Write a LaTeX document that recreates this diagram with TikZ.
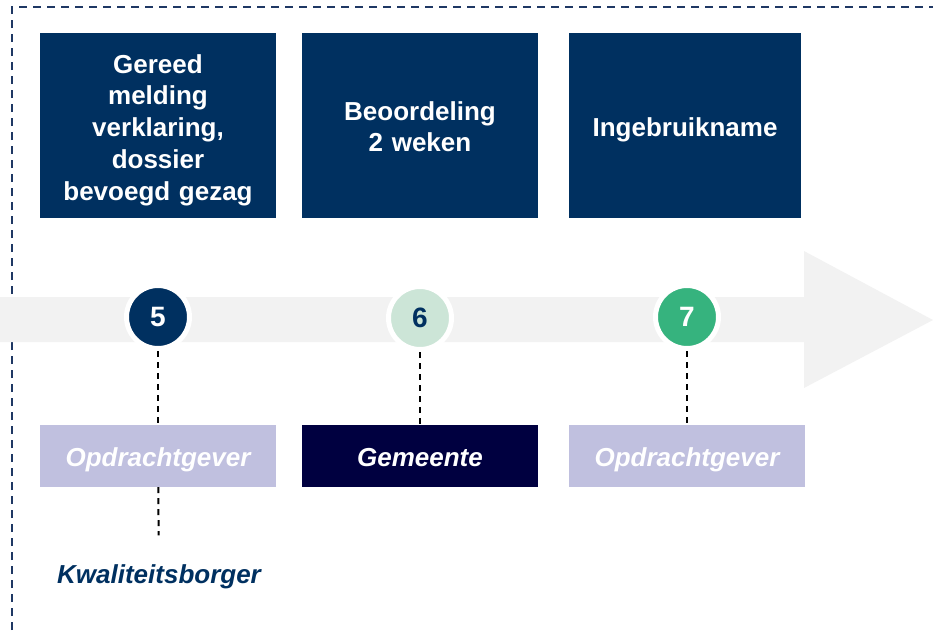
\documentclass[tikz,border=0pt]{standalone}
\usepackage{fontspec}
\setmainfont{Liberation Sans}
\usetikzlibrary{positioning}
\definecolor{navy}{HTML}{003060}
\definecolor{night}{HTML}{000040}
\definecolor{lavender}{HTML}{C0C0DF}
\definecolor{mint}{HTML}{CCE5D7}
\definecolor{jade}{HTML}{36B37E}
\definecolor{mist}{HTML}{F2F2F2}
\definecolor{frame}{HTML}{1F3864}
\begin{document}
\begin{tikzpicture}[x=1pt, y=-1pt,
  stepbox/.style={shape=rectangle, fill=navy, text=white, inner sep=0pt, minimum width=236pt, minimum height=185pt, text width=230pt, align=center, text height=19pt, font=\fontsize{26}{31.75}\selectfont\bfseries},
  rolebox/.style={shape=rectangle, text=white, inner sep=0pt, minimum width=236pt, minimum height=62pt, text height=22pt, text depth=2pt, font=\fontsize{26}{30}\selectfont\bfseries\itshape},
  mile/.style={shape=circle, draw=white, line width=5pt, minimum size=63pt, inner sep=0pt, font=\fontsize{28}{30}\selectfont\bfseries},
  link/.style={-, line width=2pt, draw=black, dash pattern=on 6pt off 5pt}]
\useasboundingbox (0,0) rectangle (933,630);
\draw[frame, line width=2.5pt, dash pattern=on 8pt off 6pt] (12,630) -- (12,7) -- (933,7);
\fill[mist] (0,297) -- (804,297) -- (804,251) -- (933,320) -- (804,388) -- (804,342) -- (0,342) -- cycle;
\node[stepbox, text depth=124pt] (s5) at (158,125.5) {Gereed\\melding\\verklaring,\\dossier\\bevoegd gezag};
\node[stepbox, text depth=30pt] (s6) at (420,125.5) {Beoordeling\\2 weken};
\node[stepbox, text height=24pt, text depth=2pt, minimum width=232pt] (s7) at (685,125.5) {Ingebruikname};
\node[mile, fill=navy, text=white] (5) at (158,317) {5};
\node[mile, fill=mint, text=navy] (6) at (420,318) {6};
\node[mile, fill=jade, text=white] (7) at (687,317) {7};
\node[rolebox, fill=lavender] (r5) at (158,456) {Opdrachtgever};
\node[rolebox, fill=night] (r6) at (420,456) {Gemeente};
\node[rolebox, fill=lavender] (r7) at (687,456) {Opdrachtgever};
\node[text=navy, font=\fontsize{26}{30}\selectfont\bfseries\itshape] (kb) at (159,577) {Kwaliteitsborger};
\path [link] (5) edge (r5);
\path [link] (6) edge (r6);
\path [link] (7) edge (r7);
\path [link, shorten >=26pt] (r5) edge (kb);
\end{tikzpicture}
\end{document}
